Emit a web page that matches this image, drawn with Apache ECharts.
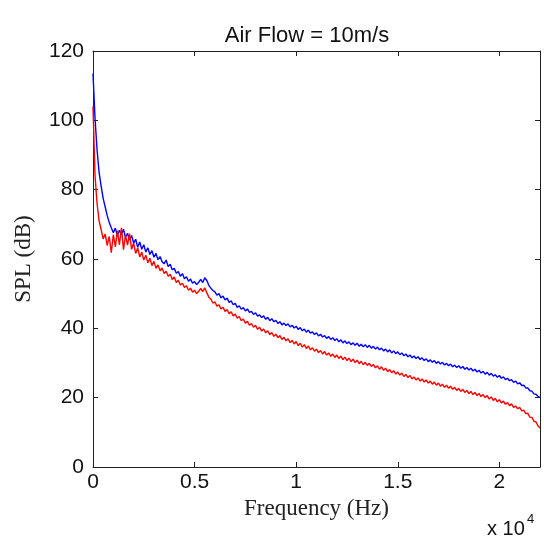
<!DOCTYPE html>
<html>
<head>
<meta charset="utf-8">
<script src="https://cdn.jsdelivr.net/npm/echarts/dist/echarts.min.js"></script>
<style>
  html, body { margin: 0; padding: 0; background: #fff; }
  #chart { width: 544px; height: 542px; }
</style>
</head>
<body>
<div id="chart"></div>
<script>
// frequency grid (Hz), one sample every 100 Hz
const freqHz = [
    0, 100, 200, 300, 400, 500, 600, 700, 800, 900,
    1000, 1100, 1200, 1300, 1400, 1500, 1600, 1700, 1800, 1900,
    2000, 2100, 2200, 2300, 2400, 2500, 2600, 2700, 2800, 2900,
    3000, 3100, 3200, 3300, 3400, 3500, 3600, 3700, 3800, 3900,
    4000, 4100, 4200, 4300, 4400, 4500, 4600, 4700, 4800, 4900,
    5000, 5100, 5200, 5300, 5400, 5500, 5600, 5700, 5800, 5900,
    6000, 6100, 6200, 6300, 6400, 6500, 6600, 6700, 6800, 6900,
    7000, 7100, 7200, 7300, 7400, 7500, 7600, 7700, 7800, 7900,
    8000, 8100, 8200, 8300, 8400, 8500, 8600, 8700, 8800, 8900,
    9000, 9100, 9200, 9300, 9400, 9500, 9600, 9700, 9800, 9900,
    10000, 10100, 10200, 10300, 10400, 10500, 10600, 10700, 10800, 10900,
    11000, 11100, 11200, 11300, 11400, 11500, 11600, 11700, 11800, 11900,
    12000, 12100, 12200, 12300, 12400, 12500, 12600, 12700, 12800, 12900,
    13000, 13100, 13200, 13300, 13400, 13500, 13600, 13700, 13800, 13900,
    14000, 14100, 14200, 14300, 14400, 14500, 14600, 14700, 14800, 14900,
    15000, 15100, 15200, 15300, 15400, 15500, 15600, 15700, 15800, 15900,
    16000, 16100, 16200, 16300, 16400, 16500, 16600, 16700, 16800, 16900,
    17000, 17100, 17200, 17300, 17400, 17500, 17600, 17700, 17800, 17900,
    18000, 18100, 18200, 18300, 18400, 18500, 18600, 18700, 18800, 18900,
    19000, 19100, 19200, 19300, 19400, 19500, 19600, 19700, 19800, 19900,
    20000, 20100, 20200, 20300, 20400, 20500, 20600, 20700, 20800, 20900,
    21000, 21100, 21200, 21300, 21400, 21500, 21600, 21700, 21800, 21900,
    22000
]

// SPL (dB), blue trace
const splBlue = [
    113.5, 100.5, 91.5, 85.0, 81.0, 77.5, 75.0, 72.5, 70.5, 69.0,
    67.6, 68.9, 66.7, 68.3, 67.0, 68.6, 66.2, 67.4, 65.5, 66.8,
    64.6, 65.7, 63.4, 64.9, 62.8, 64.1, 62.0, 63.2, 61.3, 62.4,
    60.5, 61.6, 59.8, 60.7, 59.2, 58.6, 59.7, 57.8, 58.5, 56.9,
    57.3, 55.9, 56.4, 55.0, 55.8, 54.3, 54.9, 53.6, 54.2, 53.0,
    53.5, 52.6, 53.3, 54.1, 53.2, 54.6, 53.8, 52.4, 51.6, 50.9,
    50.5, 49.6, 50.0, 48.8, 49.3, 48.2, 48.7, 47.5, 47.9, 46.8,
    47.2, 46.0, 46.5, 45.5, 46.0, 45.0, 45.6, 44.6, 44.9, 44.0,
    44.5, 43.5, 43.9, 43.1, 43.6, 42.6, 43.2, 42.2, 42.8, 41.9,
    42.3, 41.4, 41.9, 41.0, 41.5, 40.8, 41.3, 40.4, 40.9, 40.1,
    40.6, 39.7, 40.2, 39.3, 39.8, 38.9, 39.5, 38.6, 39.0, 38.2,
    38.7, 37.8, 38.3, 37.5, 37.9, 37.1, 37.6, 36.8, 37.3, 36.5,
    37.0, 36.1, 36.7, 35.8, 36.4, 35.6, 36.1, 35.3, 35.8, 35.1,
    35.7, 34.8, 35.4, 34.7, 35.3, 34.5, 35.1, 34.3, 34.8, 34.0,
    34.6, 33.8, 34.3, 33.5, 34.0, 33.2, 33.8, 32.9, 33.5, 32.7,
    33.2, 32.4, 32.9, 32.1, 32.6, 31.8, 32.3, 31.5, 32.0, 31.3,
    31.8, 31.0, 31.5, 30.7, 31.2, 30.4, 30.9, 30.2, 30.7, 29.9,
    30.4, 29.7, 30.2, 29.4, 29.9, 29.2, 29.7, 28.9, 29.4, 28.7,
    29.2, 28.5, 29.0, 28.2, 28.7, 28.0, 28.5, 27.7, 28.2, 27.4,
    27.9, 27.1, 27.6, 26.8, 27.3, 26.5, 27.0, 26.2, 26.6, 25.9,
    26.4, 25.6, 26.0, 25.2, 25.6, 24.9, 25.2, 24.4, 24.8, 24.0,
    24.3, 23.5, 23.6, 22.8, 22.8, 22.0, 21.9, 21.1, 21.0, 20.4,
    20.0
]

// SPL (dB), red trace
const splRed = [
    104.0, 84.0, 76.0, 71.0, 68.5, 65.8, 67.2, 63.9, 66.5, 61.8,
    67.0, 63.5, 68.2, 64.1, 69.0, 62.7, 66.9, 64.0, 67.3, 62.8,
    64.6, 61.6, 63.2, 60.6, 62.0, 59.7, 61.1, 58.9, 60.2, 58.1,
    59.3, 57.3, 58.3, 56.6, 57.4, 55.8, 56.5, 55.0, 55.6, 54.1,
    54.8, 53.2, 53.9, 52.5, 53.0, 51.8, 52.3, 51.0, 51.6, 50.4,
    51.0, 50.0, 50.7, 51.5, 50.6, 51.7, 50.3, 49.0, 48.4, 47.3,
    47.6, 46.4, 46.8, 45.6, 46.1, 44.9, 45.4, 44.2, 44.8, 43.6,
    44.1, 42.9, 43.4, 42.2, 42.7, 41.5, 42.0, 40.9, 41.4, 40.3,
    40.9, 39.7, 40.3, 39.2, 39.8, 38.7, 39.3, 38.2, 38.8, 37.7,
    38.3, 37.3, 37.9, 36.8, 37.4, 36.4, 37.0, 35.9, 36.5, 35.5,
    36.2, 35.0, 35.7, 34.6, 35.3, 34.2, 34.9, 33.8, 34.4, 33.4,
    34.0, 33.0, 33.6, 32.6, 33.3, 32.3, 32.9, 31.9, 32.6, 31.6,
    32.3, 31.3, 32.0, 31.0, 31.7, 30.7, 31.4, 30.4, 31.1, 30.1,
    30.8, 29.8, 30.5, 29.5, 30.2, 29.3, 29.9, 29.0, 29.6, 28.6,
    29.2, 28.2, 28.9, 27.9, 28.5, 27.5, 28.1, 27.2, 27.8, 26.8,
    27.4, 26.5, 27.1, 26.1, 26.7, 25.8, 26.4, 25.4, 26.0, 25.1,
    25.7, 24.8, 25.4, 24.5, 25.1, 24.2, 24.8, 23.9, 24.5, 23.6,
    24.2, 23.3, 23.9, 23.0, 23.6, 22.7, 23.3, 22.4, 23.0, 22.1,
    22.7, 21.8, 22.4, 21.5, 22.1, 21.2, 21.8, 20.9, 21.5, 20.6,
    21.2, 20.3, 20.9, 20.0, 20.6, 19.6, 20.2, 19.2, 19.8, 18.8,
    19.4, 18.5, 19.0, 18.1, 18.6, 17.7, 18.2, 17.2, 17.6, 16.8,
    17.2, 16.2, 16.4, 15.4, 15.5, 14.4, 14.3, 13.2, 13.0, 11.9,
    11.2
]

const xTicks = [0, 5000, 10000, 15000, 20000]

const pairs = (ys) => freqHz.map((f, i) => [f, ys[i]])

const chart = echarts.init(document.getElementById('chart'))

const SANS = 'Liberation Sans, Arial, sans-serif'
const SERIF = 'Liberation Serif, Times New Roman, serif'

const baseX = {
    type: 'value',
    min: 0,
    max: 22000,
    interval: 5000,
    axisLine: { show: true, onZero: false, lineStyle: { color: '#222', width: 1 } },
    axisTick: { show: true, inside: true, length: 5, lineStyle: { color: '#222' } },
    splitLine: { show: false },
}

const baseY = {
    type: 'value',
    min: 0,
    max: 120,
    interval: 20,
    axisLine: { show: true, onZero: false, lineStyle: { color: '#222', width: 1 } },
    axisTick: { show: true, inside: true, length: 5, lineStyle: { color: '#222' } },
    splitLine: { show: false },
}

chart.setOption({
    animation: false,
    title: {
        text: 'Air Flow = 10m/s',
        left: 302,
        top: 20,
        textAlign: 'center',
        textStyle: { fontFamily: SANS, fontSize: 22, fontWeight: 'normal', color: '#111' },
    },
    grid: { left: 93, top: 51, width: 447, height: 416 },
    xAxis: [
        {
            ...baseX,
            position: 'bottom',
            name: 'Frequency (Hz)',
            nameLocation: 'middle',
            nameGap: 30,
            nameTextStyle: { fontFamily: SERIF, fontSize: 23, color: '#222' },
            axisLabel: {
                fontFamily: SANS,
                fontSize: 21,
                color: '#111',
                margin: 5,
                showMaxLabel: false,
                formatter: (v) => (xTicks.includes(v) ? String(v / 10000) : ''),
            },
        },
        { ...baseX, position: 'top', axisLabel: { show: false } },
    ],
    yAxis: [
        {
            ...baseY,
            position: 'left',
            name: 'SPL (dB)',
            nameLocation: 'middle',
            nameGap: 58,
            nameTextStyle: { fontFamily: SERIF, fontSize: 23, color: '#222' },
            axisLabel: { fontFamily: SANS, fontSize: 21, color: '#111', margin: 9 },
        },
        { ...baseY, position: 'right', axisLabel: { show: false } },
    ],
    graphic: [
        {
            type: 'text',
            left: 487,
            top: 519,
            style: { text: 'x 10', fontFamily: SANS, fontSize: 20, fill: '#111' },
        },
        {
            type: 'text',
            left: 527,
            top: 513,
            style: { text: '4', fontFamily: SANS, fontSize: 13, fill: '#111' },
        },
    ],
    series: [
        {
            name: 'blue',
            type: 'line',
            data: pairs(splBlue),
            showSymbol: false,
            lineStyle: { color: '#0000ff', width: 1.4 },
            z: 2,
        },
        {
            name: 'red',
            type: 'line',
            data: pairs(splRed),
            showSymbol: false,
            lineStyle: { color: '#ff0000', width: 1.4 },
            z: 3,
        },
    ],
})
</script>
</body>
</html>
